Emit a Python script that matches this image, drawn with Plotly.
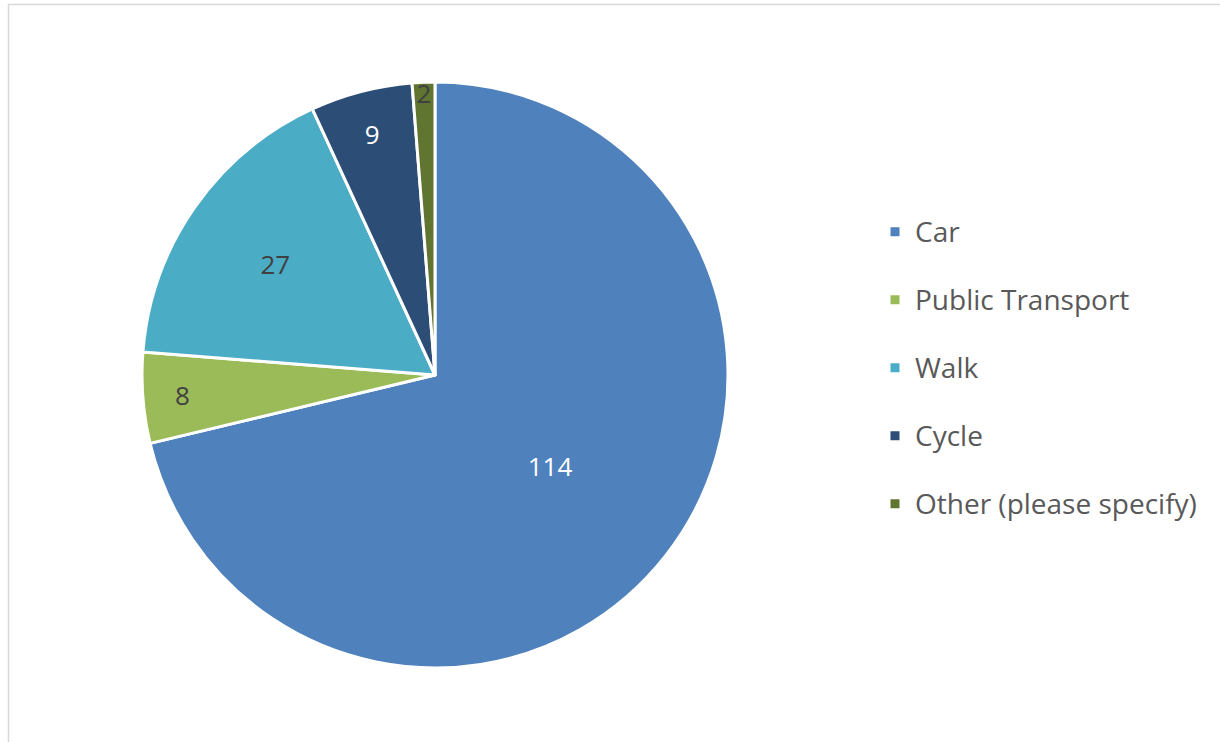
import plotly.graph_objects as go

categories = ["Car", "Public Transport", "Walk", "Cycle", "Other (please specify)"]
values = [114, 8, 27, 9, 2]
colors = ["#4F81BD", "#9BBB59", "#4BACC6", "#2C4D75", "#5F7530"]
text_colors = ["#FFFFFF", "#404040", "#404040", "#FFFFFF", "#404040"]

W, H = 1220, 742
cx, cy, r = 435, 375, 293

legend_labels = ["<span style='font-size:28px'>%s</span><br> " % c for c in categories]

fig = go.Figure(go.Pie(
    labels=legend_labels,
    values=values,
    sort=False,
    direction="clockwise",
    rotation=0,
    marker=dict(colors=colors, line=dict(color="#FFFFFF", width=3)),
    textinfo="value",
    textposition="inside",
    insidetextorientation="horizontal",
    insidetextfont=dict(color=text_colors, size=26, family="Open Sans"),
    hoverinfo="label+value",
    domain=dict(x=[(cx - r) / W, (cx + r) / W], y=[(H - cy - r) / H, (H - cy + r) / H]),
))

fig.update_layout(
    width=W, height=H,
    margin=dict(l=0, r=0, t=0, b=0),
    paper_bgcolor="#FFFFFF",
    font=dict(family="Open Sans", color="#595959"),
    uniformtext=dict(minsize=26, mode="show"),
    legend=dict(
        x=875 / W, xanchor="left", y=1 - 209 / H, yanchor="top",
        font=dict(size=25, color="#595959", family="Open Sans"),
        valign="top", traceorder="normal",
    ),
    shapes=[dict(type="rect", xref="paper", yref="paper",
                 x0=8.5 / W, x1=1.05, y0=-0.05, y1=1 - 4.5 / H,
                 line=dict(color="#D9D9D9", width=1.5))],
)

fig.write_html("out.html", config={"displayModeBar": False},
               post_script="document.body.style.margin='0';")
